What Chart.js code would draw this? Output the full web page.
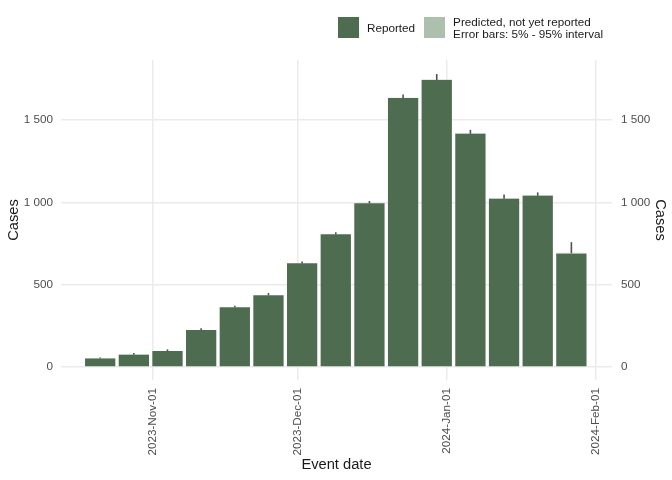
<!DOCTYPE html>
<html>
<head>
<meta charset="utf-8">
<script src="https://cdn.jsdelivr.net/npm/chart.js@4"></script>
<style>
  body { margin: 0; background: #fff; font-family: "Liberation Sans", Arial, sans-serif; }
  #wrap { position: relative; width: 672px; height: 480px; }
  #legend { position: absolute; top: 16px; left: 338px; display: flex; align-items: center; font-size: 11.7px; color: #1a1a1a; line-height: 11.5px; }
  .box { width: 21px; height: 21px; margin-right: 8px; }
  .item { display: flex; align-items: center; margin-right: 9px; }
</style>
</head>
<body>
<div id="wrap">
  <canvas id="chart" width="672" height="480"></canvas>
  <div id="legend"></div>
</div>
<script>
// weekly bars, dated by the middle of the week
const weeks = ['2023-10-21', '2023-10-28', '2023-11-04', '2023-11-11', '2023-11-18',
  '2023-11-25', '2023-12-02', '2023-12-09', '2023-12-16', '2023-12-23',
  '2023-12-30', '2024-01-06', '2024-01-13', '2024-01-20', '2024-01-27'];
const reported = [52, 75, 97, 224, 363, 436, 630, 806, 994, 1634, 1743, 1416, 1022, 1039, 688];
const predicted = [0, 0, 0, 0, 0, 0, 0, 0, 0, 1, 2, 2, 2, 3, 5];
const lower = [51, 74, 96, 223, 362, 435, 629, 805, 993, 1633, 1742, 1416, 1022, 1040, 690];
const upper = [58, 85, 107, 235, 372, 449, 640, 818, 1008, 1655, 1779, 1440, 1048, 1060, 758];
const dateTicks = ['2023-11-01', '2023-12-01', '2024-01-01', '2024-02-01'];
const caseTicks = [0, 500, 1000, 1500];
const legendLabels = ['Reported', 'Predicted, not yet reported<br>Error bars: 5% - 95% interval'];

const colReported = '#4e6c50';
const colPredicted = '#adbfad';
const months = ['Jan', 'Feb', 'Mar', 'Apr', 'May', 'Jun', 'Jul', 'Aug', 'Sep', 'Oct', 'Nov', 'Dec'];
const origin = Date.UTC(2023, 10, 1);

function day(s) {
  let [y, m, d] = s.split('-').map(Number);
  return (Date.UTC(y, m - 1, d) - origin) / 864e5;
}
function dateLabel(v) {
  let d = new Date(origin + v * 864e5);
  return d.getUTCFullYear() + '-' + months[d.getUTCMonth()] + '-' + String(d.getUTCDate()).padStart(2, '0');
}
function caseLabel(v) {
  return String(v).replace(/\B(?=(\d{3})+(?!\d))/g, ' ');
}

const errorBars = {
  id: 'errorBars',
  afterDatasetsDraw(chart) {
    const { ctx, scales: { x, y } } = chart;
    ctx.save();
    ctx.strokeStyle = '#505050';
    ctx.lineWidth = 1.6;
    weeks.forEach((w, i) => {
      let px = x.getPixelForValue(day(w));
      ctx.beginPath();
      ctx.moveTo(px, y.getPixelForValue(lower[i]));
      ctx.lineTo(px, y.getPixelForValue(upper[i]));
      ctx.stroke();
    });
    ctx.restore();
  }
};

Chart.defaults.font.family = '"Liberation Sans", Arial, sans-serif';

const yMin = -79, yMax = 1864;
const tickFont = { size: 11.7 };
const titleFont = { size: 14.7 };

new Chart(document.getElementById('chart'), {
  type: 'bar',
  data: {
    datasets: [
      {
        label: 'Reported',
        data: weeks.map((w, i) => ({ x: day(w), y: reported[i] })),
        backgroundColor: colReported,
        barPercentage: 0.9,
        categoryPercentage: 1
      },
      {
        label: 'Predicted, not yet reported',
        data: weeks.map((w, i) => ({ x: day(w), y: predicted[i] })),
        backgroundColor: colPredicted,
        barPercentage: 0.9,
        categoryPercentage: 1
      }
    ]
  },
  options: {
    responsive: false,
    animation: false,
    layout: { padding: { top: 60, left: 0, right: 0, bottom: 0 } },
    plugins: { legend: { display: false }, tooltip: { enabled: false } },
    scales: {
      x: {
        type: 'linear',
        stacked: true,
        offset: false,
        min: -19.15,
        max: 95.45,
        afterBuildTicks: axis => { axis.ticks = dateTicks.map(d => ({ value: day(d) })); },
        afterFit: axis => { axis.height = 100; },
        ticks: { callback: v => dateLabel(v), minRotation: 90, maxRotation: 90, color: '#4d4d4d', font: tickFont, padding: 8 },
        grid: { offset: false, color: '#ebebeb', lineWidth: 1.5, drawTicks: false },
        border: { display: false },
        title: { display: true, text: 'Event date', color: '#1a1a1a', font: titleFont, padding: { top: 0, bottom: 6 } }
      },
      y: {
        stacked: true,
        min: yMin,
        max: yMax,
        afterBuildTicks: axis => { axis.ticks = caseTicks.map(v => ({ value: v })); },
        afterFit: axis => { axis.width = 61; },
        ticks: { callback: v => caseLabel(v), color: '#4d4d4d', font: tickFont, padding: 8 },
        grid: { color: '#ebebeb', lineWidth: 1.5, drawTicks: false },
        border: { display: false },
        title: { display: true, text: 'Cases', color: '#1a1a1a', font: titleFont, padding: { top: 5, bottom: 0 } }
      },
      y2: {
        position: 'right',
        min: yMin,
        max: yMax,
        afterBuildTicks: axis => { axis.ticks = caseTicks.map(v => ({ value: v })); },
        afterFit: axis => { axis.width = 60; },
        ticks: { callback: v => caseLabel(v), color: '#4d4d4d', font: tickFont, padding: 9 },
        grid: { display: false, drawTicks: false },
        border: { display: false },
        title: { display: true, text: 'Cases', color: '#1a1a1a', font: titleFont, padding: { top: 3, bottom: 0 } }
      }
    }
  },
  plugins: [errorBars]
});

let legend = document.getElementById('legend');
[colReported, colPredicted].forEach((c, i) => {
  let item = document.createElement('div');
  item.className = 'item';
  item.innerHTML = '<div class="box" style="background:' + c + '"></div><div>' + legendLabels[i] + '</div>';
  legend.appendChild(item);
});
</script>
</body>
</html>
